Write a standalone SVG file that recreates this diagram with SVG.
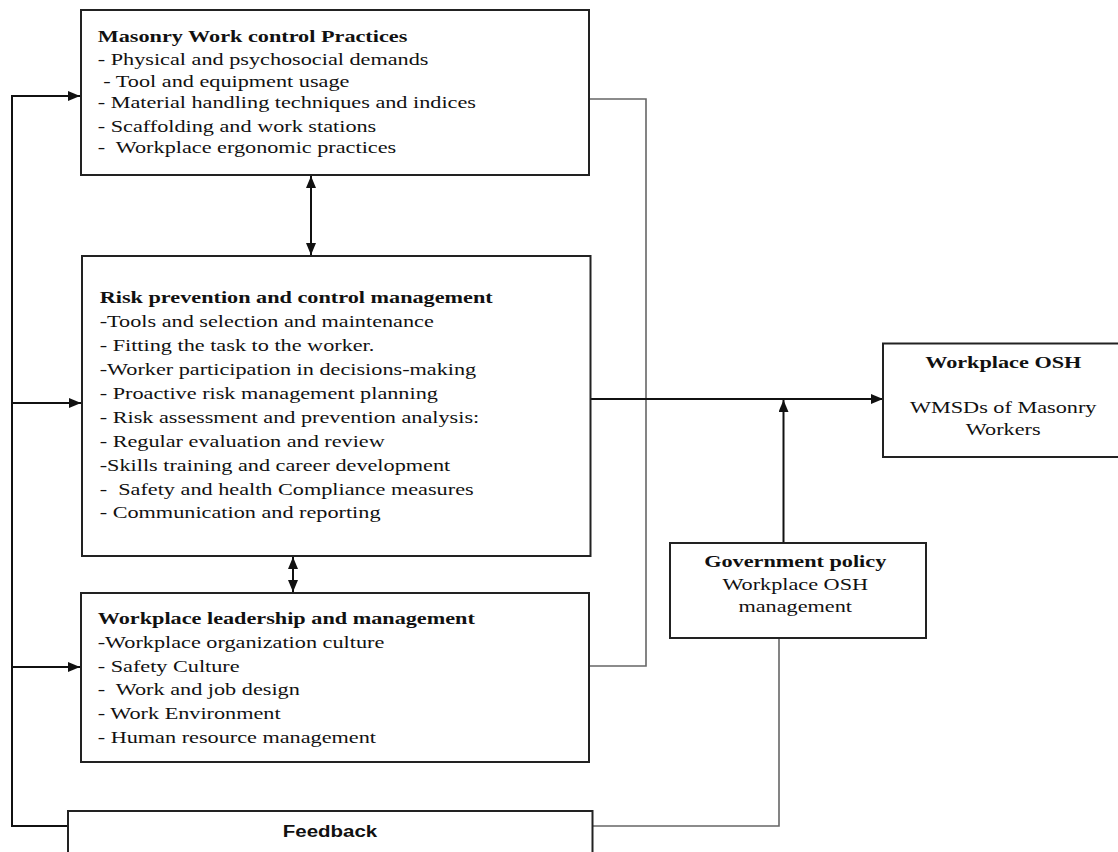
<svg xmlns="http://www.w3.org/2000/svg" width="1118" height="852" viewBox="0 0 1118 852">
<style>
.box{fill:#fff;stroke:#222;stroke-width:2}
.t{font-family:"Liberation Serif","Times New Roman",serif;font-size:17.5px;fill:#111;white-space:pre}
.b{font-weight:bold}
.fb{font-family:"Liberation Sans",Arial,sans-serif;font-size:16px;font-weight:bold;fill:#111}
.c{text-anchor:middle}
.ln{fill:none;stroke:#111;stroke-width:2}
.gl{fill:none;stroke:#666;stroke-width:1.6}
</style>
<defs>
<marker id="ah" markerUnits="userSpaceOnUse" markerWidth="12" markerHeight="10" refX="12" refY="5" orient="auto-start-reverse">
<path d="M0,0 L12,5 L0,10 z" fill="#111"/>
</marker>
</defs>
<rect width="1118" height="852" fill="#fff"/>
<g id="connectors">
<path class="ln" d="M68,826 H12 V96 H80" marker-end="url(#ah)"/>
<path class="ln" d="M12,403 H81" marker-end="url(#ah)"/>
<path class="ln" d="M12,667 H80" marker-end="url(#ah)"/>
<path class="gl" d="M589,99 H646 V666 H589"/>
<path class="gl" d="M592,826 H779 V638"/>
<path class="ln" d="M590,399 H883" marker-end="url(#ah)"/>
<path class="ln" d="M783.5,543 V400" marker-end="url(#ah)"/>
<path class="ln" d="M311,176 V255" marker-start="url(#ah)" marker-end="url(#ah)"/>
<path class="ln" d="M293,557 V592" marker-start="url(#ah)" marker-end="url(#ah)"/>
</g>
<g id="masonry">
<rect class="box" x="81" y="10" width="508" height="165"/>
<text class="t" transform="translate(97.7,0) scale(1.27,1)">
<tspan class="b" x="0" y="41.7">Masonry Work control Practices</tspan>
<tspan x="0" y="65">- Physical and psychosocial demands</tspan>
<tspan x="0" y="86.7"> - Tool and equipment usage</tspan>
<tspan x="0" y="108.3">- Material handling techniques and indices</tspan>
<tspan x="0" y="131.7">- Scaffolding and work stations</tspan>
<tspan x="0" y="153.3">-  Workplace ergonomic practices</tspan>
</text>
</g>
<g id="risk">
<rect class="box" x="82" y="256" width="508.5" height="300"/>
<text class="t" transform="translate(99.7,0) scale(1.27,1)">
<tspan class="b" x="0" y="302.7">Risk prevention and control management</tspan>
<tspan x="0" y="326.7">-Tools and selection and maintenance</tspan>
<tspan x="0" y="351">- Fitting the task to the worker.</tspan>
<tspan x="0" y="375">-Worker participation in decisions-making</tspan>
<tspan x="0" y="399">- Proactive risk management planning</tspan>
<tspan x="0" y="422.7">- Risk assessment and prevention analysis:</tspan>
<tspan x="0" y="446.7">- Regular evaluation and review</tspan>
<tspan x="0" y="470.7">-Skills training and career development</tspan>
<tspan x="0" y="495">-  Safety and health Compliance measures</tspan>
<tspan x="0" y="518.3">- Communication and reporting</tspan>
</text>
</g>
<g id="leadership">
<rect class="box" x="81" y="593" width="508" height="169"/>
<text class="t" transform="translate(97.7,0) scale(1.27,1)">
<tspan class="b" x="0" y="624">Workplace leadership and management</tspan>
<tspan x="0" y="647.7">-Workplace organization culture</tspan>
<tspan x="0" y="671.7">- Safety Culture</tspan>
<tspan x="0" y="695">-  Work and job design</tspan>
<tspan x="0" y="719">- Work Environment</tspan>
<tspan x="0" y="742.7">- Human resource management</tspan>
</text>
</g>
<g id="government">
<rect class="box" x="670" y="543" width="256" height="95"/>
<text class="t c" transform="translate(798,0) scale(1.27,1)">
<tspan class="b" x="0" y="567">Government policy</tspan>
<tspan x="0" y="590">Workplace OSH</tspan>
<tspan x="0" y="612">management</tspan>
</text>
</g>
<g id="osh">
<rect class="box" x="883" y="343.5" width="260" height="113.5"/>
<text class="t c" transform="translate(1006,0) scale(1.27,1)">
<tspan class="b" x="0" y="368.3">Workplace OSH</tspan>
<tspan x="0" y="412.7">WMSDs of Masonry</tspan>
<tspan x="0" y="435.3">Workers</tspan>
</text>
</g>
<g id="feedback">
<rect class="box" x="68" y="811" width="524.5" height="60"/>
<text class="fb c" transform="translate(330,0) scale(1.28,1)" x="0" y="837">Feedback</text>
</g>
</svg>
